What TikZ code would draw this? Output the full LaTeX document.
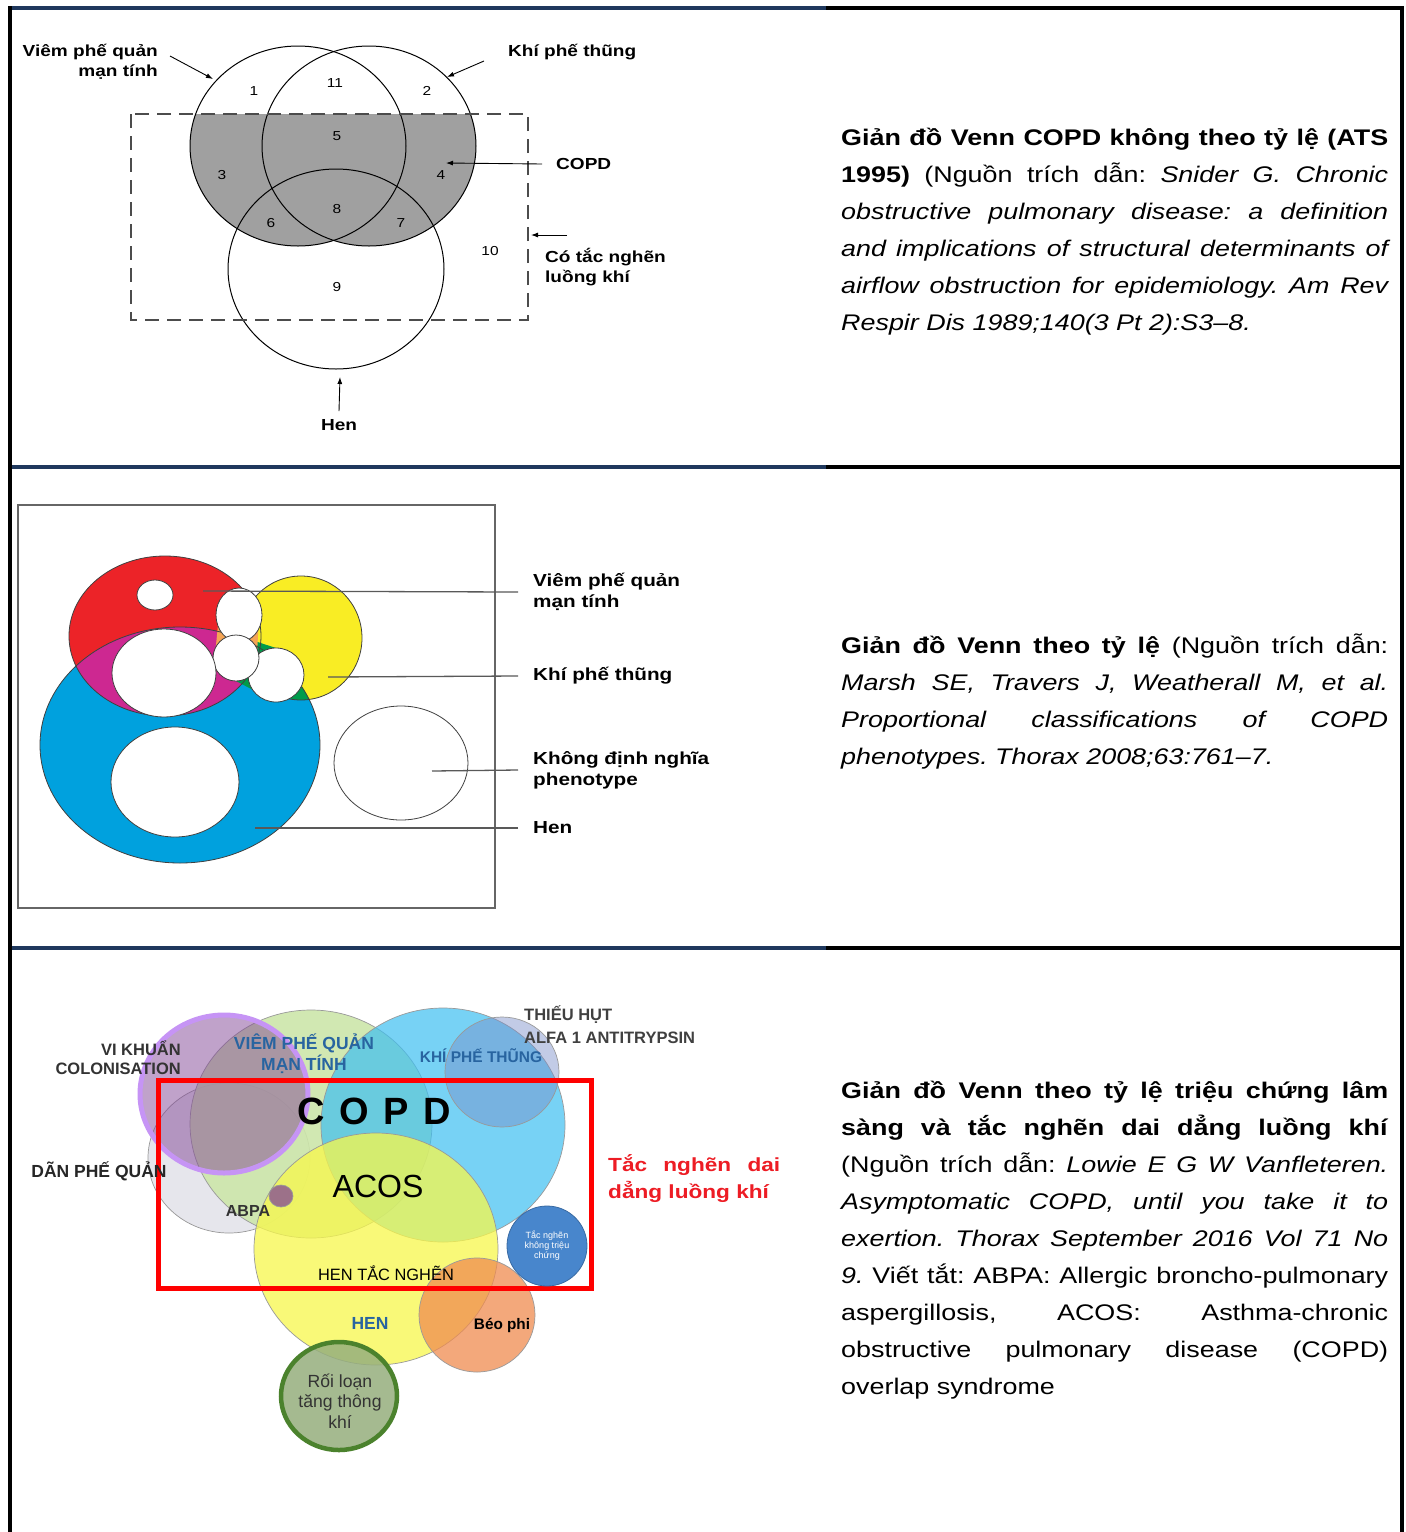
\documentclass[tikz,border=0pt]{standalone}
\usepackage{fontspec}
\setmainfont{Liberation Sans}[FakeStretch=1.19]
\newfontfamily\narrowfont{Liberation Sans}
\usetikzlibrary{arrows.meta}

\tolerance=10000
\hyphenpenalty=10000
\exhyphenpenalty=10000
\frenchspacing

\definecolor{framenavy}{RGB}{31,56,93}
\definecolor{copdgray}{RGB}{160,160,160}
\definecolor{mred}{RGB}{236,35,40}
\definecolor{myellow}{RGB}{249,237,36}
\definecolor{mblue}{RGB}{0,161,222}
\definecolor{mmagenta}{RGB}{205,40,145}
\definecolor{mgreen}{RGB}{0,155,75}
\definecolor{morange}{RGB}{245,165,85}
\definecolor{bgreen}{RGB}{205,230,170}
\definecolor{bblue}{RGB}{62,191,241}
\definecolor{bslate}{RGB}{120,140,200}
\definecolor{bgray}{RGB}{228,228,234}
\definecolor{byellow}{RGB}{248,248,75}
\definecolor{bring}{RGB}{198,148,245}
\definecolor{bmauve}{RGB}{130,70,150}
\definecolor{borange}{RGB}{240,140,80}
\definecolor{bdot}{RGB}{72,134,204}
\definecolor{bolive}{RGB}{150,175,125}
\definecolor{bleaf}{RGB}{75,130,45}
\definecolor{labelblue}{RGB}{40,100,160}
\definecolor{alarmred}{RGB}{237,28,36}

\tikzset{
  venn/.style={draw=black, line width=1pt},
  arr/.style={-{Latex[length=7pt,width=5pt]}, line width=0.9pt},
  lead/.style={draw=black!65, line width=1.3pt},
  edge/.style={draw=black!75, line width=0.8pt},
  soft/.style={draw=gray!80, line width=0.7pt},
  num/.style={font=\fontsize{13}{15}\selectfont, inner sep=0pt},
  vlabel/.style={font=\bfseries\fontsize{16}{20}\selectfont, inner sep=0pt},
  plabel/.style={font=\bfseries\fontsize{17.4}{21}\selectfont, inner sep=0pt, anchor=west, align=left},
  caps/.style={font=\narrowfont\bfseries\fontsize{17.5}{21}\selectfont, inner sep=0pt},
  caption/.style={anchor=base west, text width=547pt, align=justify, inner sep=0pt,
    font=\fontsize{22.6}{37}\selectfont},
}

\begin{document}
\begin{tikzpicture}[x=1pt,y=-1pt]
\useasboundingbox (0,0) rectangle (1406,1532);
\fill[white] (0,0) rectangle (1406,1532);

% frame
\fill[framenavy] (8,6) rectangle (826,10);
\fill[black] (826,6) rectangle (1404,10);
\fill[framenavy] (12,465) rectangle (826,469);
\fill[black] (826,465) rectangle (1400,469);
\fill[framenavy] (12,946) rectangle (826,950);
\fill[black] (826,946) rectangle (1400,950);
\fill[black] (8,6) rectangle (12,1532);
\fill[black] (1400,6) rectangle (1404,1532);

% --- ATS 1995 (khong theo ty le)
\begin{scope}
  \clip (131,114) rectangle (528,320);
  \fill[copdgray] (298,146) ellipse (108 and 100);
  \fill[copdgray] (369,146) ellipse (107 and 100);
\end{scope}
\draw[venn] (298,146) ellipse (108 and 100);
\draw[venn] (369,146) ellipse (107 and 100);
\draw[venn] (336,269) ellipse (108 and 100);
\draw[black!70, line width=1.2pt, dash pattern=on 14pt off 8pt] (131,114) rectangle (528,320);

\node[num] (r1) at (254,91) {1};
\node[num] (r11) at (335,83) {11};
\node[num] (r2) at (427,91) {2};
\node[num] (r5) at (337,136) {5};
\node[num] (r3) at (222,175) {3};
\node[num] (r4) at (441,175) {4};
\node[num] (r8) at (337,209) {8};
\node[num] (r6) at (271,223) {6};
\node[num] (r7) at (401,223) {7};
\node[num] (r10) at (490,251) {10};
\node[num] (r9) at (337,287) {9};

\node[vlabel, anchor=east, align=right] (bronch) at (158,62) {Viêm phế quản\\mạn tính};
\node[vlabel, anchor=west] (emph) at (508,52) {Khí phế thũng};
\node[vlabel, anchor=west] (copd) at (556,164) {COPD};
\node[vlabel, anchor=west, align=left] (obstr) at (545,267) {Có tắc nghẽn\\luồng khí};
\node[vlabel] (asthma) at (339,425) {Hen};

\coordinate (bronchTip) at (213,79);
\coordinate (emphTip) at (447,77);
\coordinate (copdTip) at (446,163);
\coordinate (obstrTail) at (567,235);
\coordinate (obstrTip) at (531,235);
\coordinate (asthmaTip) at (340,377);
\draw[arr] ([xshift=12pt,yshift=6pt]bronch.east) -- (bronchTip);
\draw[arr] ([xshift=-24pt,yshift=-9pt]emph.west) -- (emphTip);
\draw[arr] ([xshift=-14pt]copd.west) -- (copdTip);
\draw[arr] (obstrTail) -- (obstrTip);
\draw[arr] ([yshift=8pt]asthma.north) -- (asthmaTip);

\node[caption] (cap1) at (841,145) {\textbf{Giản đồ Venn COPD không theo tỷ lệ (ATS\linebreak 1995)} (Nguồn trích dẫn: \textit{Snider G. Chronic\linebreak obstructive pulmonary disease: a definition\linebreak and implications of structural determinants of\linebreak airflow obstruction for epidemiology. Am Rev\linebreak Respir Dis 1989;140(3 Pt 2):S3–8.}};

% --- Marsh 2008 (theo ty le)
\draw[black!60, line width=1.2pt] (18,505) rectangle (495,908);
\fill[mred] (165,636) ellipse (96 and 80);
\fill[myellow] (301,638) ellipse (61 and 62);
\fill[mblue] (180,745) ellipse (140 and 118);
\begin{scope}
  \clip (165,636) ellipse (96 and 80);
  \fill[mmagenta] (180,745) ellipse (140 and 118);
\end{scope}
\begin{scope}
  \clip (301,638) ellipse (61 and 62);
  \fill[mgreen] (180,745) ellipse (140 and 118);
\end{scope}
\fill[mgreen] (236,635) -- (276,648) -- (304,675) -- (276,702) -- (236,681) -- cycle;
\fill[morange] (219,615) -- (259,615) -- (257,655) -- (236,678) -- (215,655) -- cycle;
\draw[edge] (165,636) ellipse (96 and 80);
\draw[edge] (301,638) ellipse (61 and 62);
\draw[edge] (180,745) ellipse (140 and 118);
\filldraw[edge, fill=white] (239,615) ellipse (23 and 27);
\filldraw[edge, fill=white] (276,675) ellipse (28 and 27);
\filldraw[edge, fill=white] (236,658) ellipse (23 and 23);
\filldraw[edge, fill=white] (155,595) ellipse (18 and 15);
\filldraw[edge, fill=white] (164,673) ellipse (52 and 44);
\filldraw[edge, fill=white] (175,782) ellipse (64 and 55);
\draw[edge] (401,763) ellipse (67 and 57);

\node[plabel] (pBronch) at (533,592) {Viêm phế quản\\mạn tính};
\node[plabel] (pEmph) at (533,676) {Khí phế thũng};
\node[plabel] (pUndef) at (533,770) {Không định nghĩa\\phenotype};
\node[plabel] (pAsthma) at (533,828) {Hen};
\coordinate (inRed) at (203,591);
\coordinate (inYellow) at (328,677);
\coordinate (inEmpty) at (432,771);
\coordinate (inBlue) at (255,828);
\draw[lead] ([xshift=-15pt]pBronch.west) -- (inRed);
\draw[lead] ([xshift=-15pt]pEmph.west) -- (inYellow);
\draw[lead] ([xshift=-15pt]pUndef.west) -- (inEmpty);
\draw[lead] ([xshift=-15pt]pAsthma.west) -- (inBlue);

\node[caption] (cap2) at (841,653) {\textbf{Giản đồ Venn theo tỷ lệ} (Nguồn trích dẫn:\linebreak \textit{Marsh SE, Travers J, Weatherall M, et al.\linebreak Proportional classifications of COPD\linebreak phenotypes. Thorax 2008;63:761–7.}};

% --- Vanfleteren 2016 (trieu chung lam sang)
\filldraw[soft, fill=bgray, fill opacity=0.9] (229,1158) ellipse (81 and 75);
\filldraw[soft, fill=bgreen, fill opacity=0.9] (311,1124) ellipse (121 and 114);
\filldraw[soft, fill=bblue, fill opacity=0.7] (443,1125) ellipse (122 and 117);
\filldraw[soft, fill=bslate, fill opacity=0.45] (502,1072) ellipse (57 and 55);
\filldraw[soft, fill=byellow, fill opacity=0.75] (376,1249) ellipse (122 and 116);
\filldraw[draw=bring, line width=5pt, fill=bmauve, fill opacity=0.5] (224,1094) ellipse (84 and 79);
\filldraw[soft, fill=bmauve, fill opacity=0.75] (281,1196) ellipse (12 and 11);
\filldraw[soft, fill=borange, fill opacity=0.75] (477,1315) ellipse (58 and 57);
\filldraw[draw=bleaf, line width=4.5pt, fill=bolive, fill opacity=0.85] (339,1396) ellipse (58 and 54);
\draw[red, line width=5pt] (158,1080) rectangle (591,1288);
\filldraw[draw=bdot!80!black, line width=0.8pt, fill=bdot] (547,1246) circle (40);

\node[caps, black!80, font=\narrowfont\bfseries\fontsize{16.5}{19}\selectfont, anchor=east, align=right] (colon) at (181,1058) {VI KHUẨN\\COLONISATION};
\node[caps, labelblue, align=center] (bBronch) at (304,1054) {VIÊM PHẾ QUẢN\\MẠN TÍNH};
\node[caps, labelblue, font=\narrowfont\bfseries\fontsize{15.5}{19}\selectfont] (bEmph) at (481,1056) {KHÍ PHẾ THŨNG};
\node[caps, black!75, font=\narrowfont\bfseries\fontsize{16.5}{23}\selectfont, anchor=west, align=left] (alfa) at (524,1025) {THIẾU HỤT\\ALFA 1 ANTITRYPSIN};
\node[caps, font=\narrowfont\bfseries\fontsize{38}{40}\selectfont] (bCopd) at (374,1111) {C \kern4pt O \kern4pt P \kern4pt D};
\node[caps, black!85] (bronchiect) at (99,1171) {DÃN PHẾ QUẢN};
\node[caps, font=\narrowfont\fontsize{32}{36}\selectfont] (acos) at (378,1186) {ACOS};
\node[caps, black!80, font=\narrowfont\bfseries\fontsize{16}{19}\selectfont] (abpa) at (248,1211) {ABPA};
\node[caps, font=\narrowfont\fontsize{16.4}{19}\selectfont] (obsAsthma) at (386,1273) {HEN TẮC NGHẼN};
\node[caps, labelblue] (bAsthma) at (370,1323) {HEN};
\node[caps, font=\narrowfont\bfseries\fontsize{15.3}{18}\selectfont] (obese) at (502,1325) {Béo phi};
\node[caps, black!80, font=\narrowfont\fontsize{17.6}{20.5}\selectfont, align=center] (hypervent) at (340,1401) {Rối loạn\\tăng thông\\khí};
\node[caps, white, font=\narrowfont\fontsize{9}{10}\selectfont, align=center] (silent) at (547,1246) {Tắc nghẽn\\không triệu\\chứng};
\node[anchor=west, text width=172pt, align=justify, inner sep=0pt, alarmred, font=\bfseries\fontsize{19}{27}\selectfont] (persist) at (608,1179) {Tắc nghẽn dai\linebreak dẳng luồng khí};

\node[caption] (cap3) at (841,1098) {\textbf{Giản đồ Venn theo tỷ lệ triệu chứng lâm\linebreak sàng và tắc nghẽn dai dẳng luồng khí}\linebreak (Nguồn trích dẫn: \textit{Lowie E G W Vanfleteren.\linebreak Asymptomatic COPD, until you take it to\linebreak exertion. Thorax September 2016 Vol 71 No\linebreak 9.} Viết tắt: ABPA: Allergic broncho-pulmonary\linebreak aspergillosis, ACOS: Asthma-chronic\linebreak obstructive pulmonary disease (COPD)\linebreak overlap syndrome};

\end{tikzpicture}
\end{document}
